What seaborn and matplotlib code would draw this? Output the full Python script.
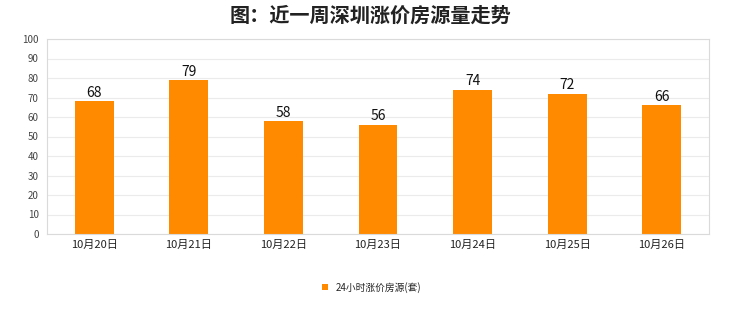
import matplotlib
matplotlib.use("Agg")
import matplotlib.pyplot as plt
import seaborn as sns
import pandas as pd

categories = ["10月20日", "10月21日", "10月22日", "10月23日", "10月24日", "10月25日", "10月26日"]
values = [68, 79, 58, 56, 74, 72, 66]
series_name = "24小时涨价房源(套)"
title = "图：近一周深圳涨价房源量走势"

sns.set_theme(style="white")
plt.rcParams['font.family'] = ['Noto Sans CJK SC', 'DejaVu Sans']

df = pd.DataFrame({"date": categories, "value": values, "series": series_name})

fig = plt.figure(figsize=(7.4, 3.12), dpi=100)
ax = fig.add_axes([47/740, 78/312, 662/740, 195/312])
sns.barplot(data=df, x="date", y="value", hue="series", palette=["#FF8A00"],
            width=0.41, ax=ax, legend=True, saturation=1, edgecolor="none")

ax.set_ylim(0, 100)
ax.set_yticks(range(0, 101, 10))
ax.set_xlim(-0.5, len(categories) - 0.5)
ax.set_xlabel("")
ax.set_ylabel("")
ax.yaxis.grid(True, color="#EBEBEB", linewidth=0.8)
ax.set_axisbelow(True)
for s in ax.spines.values():
    s.set_color("#DADADA")
    s.set_linewidth(0.8)
ax.tick_params(axis="y", labelsize=7, colors="#444444", length=0, pad=6)
ax.tick_params(axis="x", labelsize=8, colors="#222222", length=0, pad=4)

for c in ax.containers:
    ax.bar_label(c, fmt="%d", fontsize=10, color="#111111", padding=1)

leg = ax.legend(loc="upper center", bbox_to_anchor=(0.49, -0.2), frameon=False,
                fontsize=7, handlelength=0.6, handleheight=0.6, handletextpad=0.8)

fig.text(0.5, 0.952, title, ha="center", va="center", fontsize=14.5,
         fontweight="bold", color="#222222")

fig.savefig("out.png", dpi=100, facecolor="white")
